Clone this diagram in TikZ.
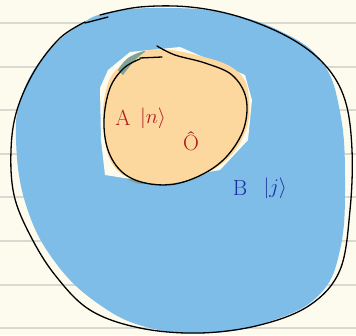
\documentclass[tikz,border=0pt]{standalone}
\usepackage{amsmath,amssymb}
\usepackage{tikz}
\usetikzlibrary{positioning}
\usepackage{xcolor}
\definecolor{paper}{HTML}{FDFBEE}
\definecolor{rule}{HTML}{D9D9D2}
\definecolor{sysB}{HTML}{7DBDE8}
\definecolor{sysA}{HTML}{FCD79E}
\definecolor{edgeA}{HTML}{7FA396}
\definecolor{inkA}{HTML}{B01A1E}
\definecolor{inkB}{HTML}{1B2F9E}

\begin{document}
\begin{tikzpicture}[
    x=1pt, y=-1pt,
    ruleline/.style={draw=rule, line width=1.2pt},
    outline/.style={draw=black, line width=1.3pt, line cap=round, line join=round},
    labA/.style={text=inkA, font=\fontsize{22}{24}\selectfont, inner sep=0pt},
    labB/.style={text=inkB, font=\fontsize{22}{24}\selectfont, inner sep=0pt}
]
    \useasboundingbox (0,0) rectangle (356,335);
    \fill[paper] (0,0) rectangle (356,335);
    \foreach \yy in {23,67,110,154,197,241,285,328}
        \draw[ruleline] (0,\yy) -- (356,\yy);
    % environment B
    \fill[sysB] plot[smooth cycle, tension=0.7] coordinates {
        (110,12) (165,8) (225,13) (282,32) (322,62) (340,112) (345,180)
        (340,250) (318,296) (268,322) (210,333) (150,328) (100,305)
        (55,262) (26,205) (16,140) (22,95) (45,55) (78,26)};
    % system A
    \fill[edgeA] plot[smooth cycle, tension=0.7] coordinates {
        (118,172) (140,184) (150,176) (125,160)};
    \fill[paper] (100,88) -- (108,70) -- (130,52) -- (180,47) -- (245,75)
        -- (252,100) -- (248,140) -- (220,170) -- (150,182) -- (105,175)
        -- (101,140) -- cycle;
    \fill[sysA] plot[smooth cycle, tension=0.7] coordinates {
        (150,50) (200,56) (238,72) (249,100) (244,135) (220,165) (180,182)
        (140,181) (113,165) (104,130) (105,95) (118,68)};
    \fill[edgeA] plot[smooth, tension=0.7] coordinates {
        (118,70) (128,58) (145,51) (135,60) (123,75)} -- cycle;
    % outlines
    \draw[outline] plot[smooth, tension=0.6] coordinates {
        (85,22) (60,38) (35,70) (17,110) (11,150) (14,195) (30,235)
        (55,275) (90,310) (140,328) (200,333) (260,325) (310,305)
        (340,270) (350,210) (352,150) (345,100) (325,65) (290,38)
        (240,17) (190,7) (140,7) (100,15)};
    \draw[outline] (85,23) -- (108,17);
    \draw[outline] plot[smooth, tension=0.6] coordinates {
        (157,46) (175,55) (205,63) (232,75) (246,98) (244,128) (228,155)
        (205,173) (175,184) (145,183) (122,172) (108,150) (104,120)
        (110,88) (124,68) (140,59)};
    \draw[outline] (140,58) -- (162,57);
    % labels
    \node[labA] (lblA) at (123,118) {A};
    \node[labA, right=9pt of lblA] (ketn) {$|n\rangle$};
    \node[labA] (opO) at (191,141) {Ô};
    \node[labB] (lblB) at (240,188) {B};
    \node[labB, right=16pt of lblB] (ketj) {$|j\rangle$};
\end{tikzpicture}
\end{document}
